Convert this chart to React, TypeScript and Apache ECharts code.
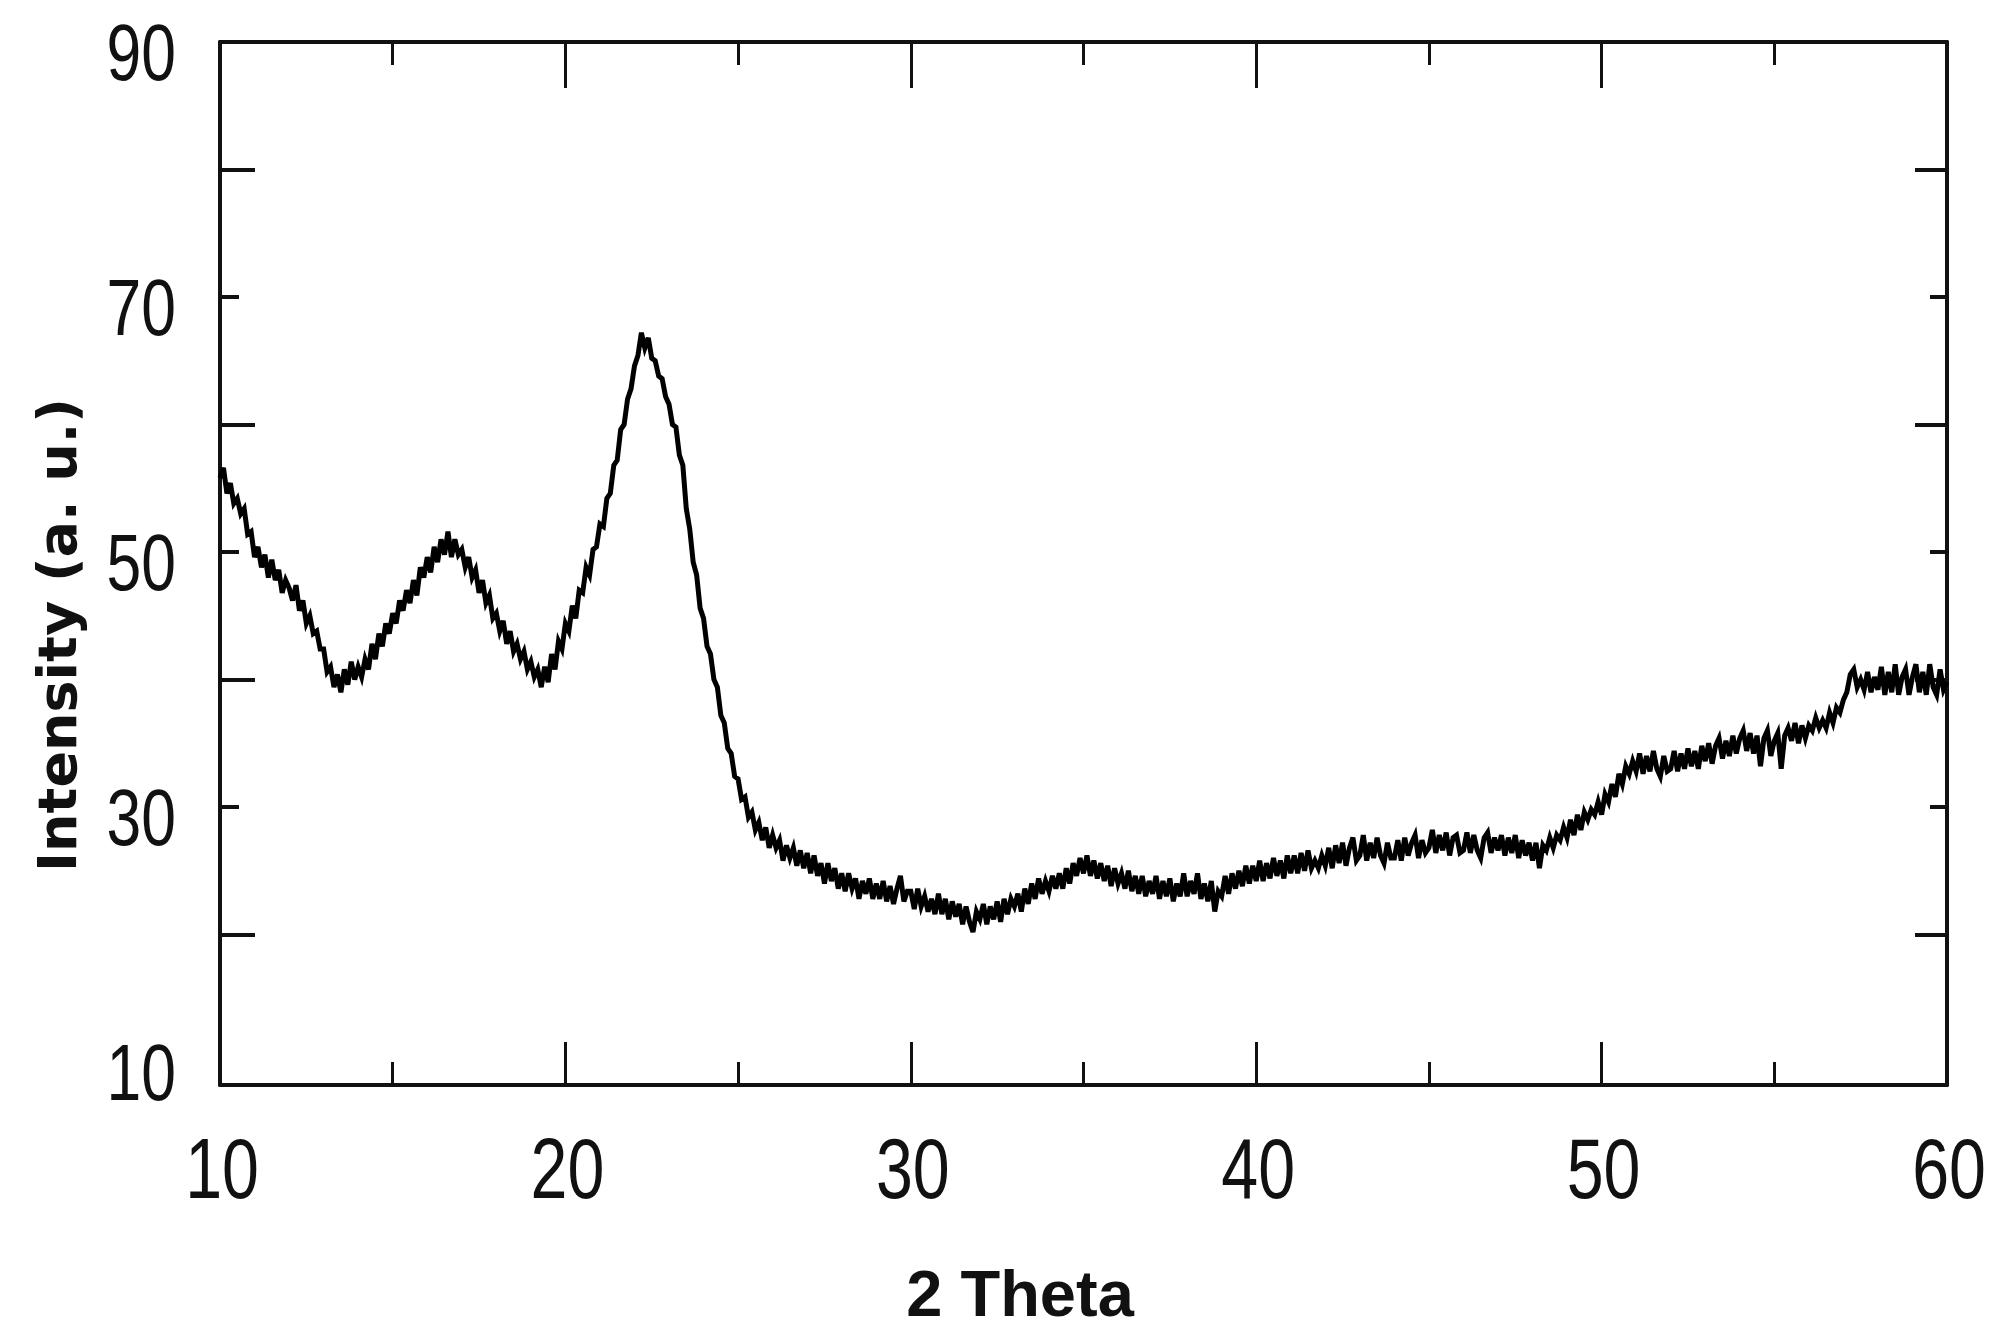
import React, { useEffect, useRef } from "react";
import * as echarts from "echarts";

// XRD pattern: 2θ from 10.0 to 60.0 in 0.1° steps
const START_ANGLE = 10;
const STEP = 0.1;
const intensity: number[] = [
  // 10
  55.8, 56.6, 54.6, 55.4, 53.8, 54.2, 53.0, 53.4, 51.4, 51.6,
  // 11
  49.6, 50.4, 48.8, 49.8, 48.0, 49.4, 47.8, 48.6, 46.8, 47.8,
  // 12
  47.2, 46.2, 47.4, 45.4, 46.2, 44.4, 45.0, 43.6, 43.8, 42.4,
  // 13
  42.4, 40.6, 41.0, 39.4, 40.4, 39.0, 40.8, 39.6, 41.4, 40.0,
  // 14
  41.0, 40.2, 41.6, 40.8, 42.8, 41.6, 43.6, 42.6, 44.4, 43.6,
  // 15
  45.2, 44.4, 46.2, 45.4, 47.0, 46.0, 47.8, 46.6, 48.8, 48.0,
  // 16
  49.6, 48.4, 50.4, 49.2, 51.0, 49.8, 51.6, 49.6, 51.0, 49.8,
  // 17
  50.2, 48.8, 49.6, 48.0, 48.6, 46.8, 47.8, 46.0, 46.6, 44.8,
  // 18
  45.2, 43.8, 44.6, 42.8, 43.8, 42.2, 42.8, 41.6, 42.2, 40.8,
  // 19
  41.4, 40.2, 40.8, 39.4, 41.0, 39.8, 42.0, 40.8, 43.0, 42.4,
  // 20
  44.4, 43.8, 45.8, 44.8, 47.0, 46.8, 48.8, 48.2, 50.2, 50.4,
  // 21
  52.2, 52.0, 54.2, 54.6, 56.8, 57.2, 59.6, 60.0, 62.0, 62.8,
  // 22
  64.6, 65.4, 67.2, 66.0, 66.8, 65.2, 65.0, 63.8, 63.6, 62.2,
  // 23
  61.6, 60.0, 59.8, 57.6, 56.8, 53.4, 51.8, 49.2, 48.2, 45.6,
  // 24
  44.8, 42.6, 42.0, 40.0, 39.4, 37.2, 36.6, 34.6, 34.2, 32.4,
  // 25
  32.2, 30.6, 30.8, 29.2, 29.6, 28.2, 28.8, 27.4, 28.4, 26.8,
  // 26
  27.8, 26.8, 27.4, 25.8, 27.0, 26.0, 26.8, 25.4, 26.6, 25.2,
  // 27
  26.4, 24.8, 26.2, 24.6, 25.6, 24.0, 25.6, 24.2, 25.2, 23.6,
  // 28
  24.8, 23.4, 24.8, 23.6, 24.4, 22.8, 24.2, 23.2, 24.4, 22.8,
  // 29
  24.0, 22.8, 24.2, 22.6, 23.8, 22.4, 23.6, 24.6, 22.6, 23.4,
  // 30
  23.4, 22.0, 23.6, 22.2, 23.0, 21.8, 22.8, 21.6, 23.2, 21.6,
  // 31
  22.8, 21.2, 22.6, 21.4, 22.4, 20.8, 22.2, 21.0, 20.2, 21.8,
  // 32
  21.2, 22.4, 20.8, 22.2, 21.2, 22.6, 21.0, 22.8, 21.6, 22.8,
  // 33
  22.2, 23.2, 21.8, 23.6, 22.4, 24.0, 22.8, 24.4, 23.2, 24.2,
  // 34
  23.4, 24.6, 23.6, 24.8, 23.6, 25.2, 24.0, 25.6, 24.6, 26.0,
  // 35
  24.8, 26.2, 24.6, 25.8, 24.4, 25.6, 24.2, 25.4, 23.8, 25.2,
  // 36
  24.0, 24.8, 23.6, 25.0, 23.4, 24.6, 23.2, 24.6, 23.0, 24.2,
  // 37
  23.2, 24.6, 22.8, 24.2, 23.0, 24.4, 22.6, 24.0, 23.0, 24.8,
  // 38
  23.0, 24.2, 23.2, 24.8, 22.8, 24.0, 22.6, 24.2, 21.8, 23.4,
  // 39
  23.0, 24.6, 23.2, 24.8, 23.6, 25.0, 23.8, 25.4, 24.0, 25.4,
  // 40
  24.2, 25.8, 24.2, 25.6, 24.4, 26.0, 24.6, 25.8, 24.4, 26.2,
  // 41
  24.8, 26.2, 24.8, 26.4, 25.0, 26.6, 25.2, 25.8, 25.2, 26.2,
  // 42
  25.4, 26.8, 25.2, 27.0, 25.6, 27.2, 25.4, 26.8, 27.6, 25.8,
  // 43
  26.2, 27.8, 25.8, 27.2, 26.0, 27.6, 26.2, 25.6, 27.2, 26.0,
  // 44
  26.0, 27.4, 25.8, 27.6, 26.2, 27.2, 27.8, 26.0, 27.4, 26.4,
  // 45
  26.8, 28.2, 26.4, 27.8, 26.6, 28.0, 26.2, 27.6, 27.8, 26.4,
  // 46
  26.6, 28.0, 26.4, 27.8, 26.6, 26.0, 27.6, 28.0, 26.4, 27.6,
  // 47
  26.6, 27.8, 26.2, 27.6, 26.4, 27.8, 26.0, 27.4, 26.2, 27.2,
  // 48
  25.8, 27.2, 25.2, 27.0, 26.6, 27.6, 26.8, 27.8, 27.4, 28.4,
  // 49
  27.6, 29.0, 27.8, 29.4, 28.2, 29.6, 29.0, 29.8, 29.4, 30.4,
  // 50
  29.4, 31.0, 30.4, 31.8, 30.8, 32.6, 31.8, 33.2, 32.6, 33.6,
  // 51
  32.8, 34.2, 32.6, 34.0, 32.8, 34.4, 33.0, 32.4, 34.0, 32.8,
  // 52
  33.0, 34.4, 32.8, 34.2, 33.0, 34.6, 33.2, 34.4, 33.0, 34.8,
  // 53
  33.6, 35.0, 33.4, 34.8, 35.4, 33.8, 35.2, 34.0, 35.6, 34.2,
  // 54
  35.4, 36.0, 34.4, 35.8, 34.2, 35.6, 33.2, 35.4, 36.0, 34.0,
  // 55
  35.2, 35.8, 33.0, 35.6, 36.2, 35.2, 36.6, 35.0, 36.4, 35.4,
  // 56
  36.4, 36.0, 37.0, 36.2, 36.8, 36.2, 37.4, 36.6, 37.8, 37.4,
  // 57
  38.4, 39.0, 40.4, 40.8, 39.4, 40.0, 39.2, 40.6, 39.0, 40.2,
  // 58
  39.2, 41.0, 38.8, 40.6, 39.0, 41.2, 38.8, 40.2, 40.8, 38.8,
  // 59
  40.2, 41.2, 39.0, 40.6, 38.8, 41.2, 39.4, 38.8, 40.8, 39.2,
  // 60
  39.8,
];

const X_MIN = 10;
const X_MAX = 60;
const Y_MIN = 8.2;
const Y_MAX = 90;
const xLabelValues = [10, 20, 30, 40, 50, 60];
const yLabelValues = [10, 30, 50, 70, 90];
const yShortTicks = [30, 50, 70];
const yLongTicks = [20, 40, 60, 80];
const xTitle = "2 Theta";
const yTitle = "Intensity (a. u.)";

const INK = "#111";
const NUM_FONT = "'Liberation Sans', Arial, sans-serif";

export default function App() {
  const ref = useRef<HTMLDivElement>(null);

  useEffect(() => {
    if (!ref.current) return;
    const chart = echarts.init(ref.current, null, { renderer: "svg" });

    const points = intensity.map((v, i) => [
      Math.round((START_ANGLE + i * STEP) * 10) / 10,
      v,
    ]);

    const xBase = {
      type: "value",
      min: X_MIN,
      max: X_MAX,
      interval: 10,
      splitLine: { show: false },
      axisLine: { show: true, onZero: false, lineStyle: { color: INK, width: 4 } },
      minorTick: { show: true, splitNumber: 2, length: 23, lineStyle: { color: INK, width: 3 } },
      minorSplitLine: { show: false },
      axisLabel: { show: false },
    };

    const yBase = {
      type: "value",
      min: Y_MIN,
      max: Y_MAX,
      splitLine: { show: false },
      axisLabel: { show: false },
    };

    const option: any = {
      animation: false,
      backgroundColor: "#ffffff",
      grid: { left: 220, right: 61, top: 42, bottom: 257, containLabel: false },
      xAxis: [
        {
          ...xBase,
          position: "bottom",
          axisTick: { show: true, inside: true, length: 43, lineStyle: { color: INK, width: 3 } },
        },
        {
          ...xBase,
          position: "top",
          axisTick: { show: true, inside: true, length: 46, lineStyle: { color: INK, width: 3 } },
        },
      ],
      yAxis: [
        {
          ...yBase,
          position: "left",
          axisLine: { show: true, onZero: false, lineStyle: { color: INK, width: 4 } },
          axisTick: {
            show: true,
            inside: true,
            length: 19,
            customValues: yShortTicks,
            lineStyle: { color: INK, width: 4 },
          },
        },
        {
          ...yBase,
          position: "left",
          axisLine: { show: false },
          axisTick: {
            show: true,
            inside: true,
            length: 35,
            customValues: yLongTicks,
            lineStyle: { color: INK, width: 4 },
          },
        },
        {
          ...yBase,
          position: "right",
          axisLine: { show: true, onZero: false, lineStyle: { color: INK, width: 4 } },
          axisTick: {
            show: true,
            inside: true,
            length: 17,
            customValues: yShortTicks,
            lineStyle: { color: INK, width: 4 },
          },
        },
        {
          ...yBase,
          position: "right",
          axisLine: { show: false },
          axisTick: {
            show: true,
            inside: true,
            length: 32,
            customValues: yLongTicks,
            lineStyle: { color: INK, width: 4 },
          },
        },
      ],
      series: [
        {
          type: "line",
          xAxisIndex: 0,
          yAxisIndex: 0,
          data: points,
          showSymbol: false,
          symbol: "none",
          clip: true,
          lineStyle: { color: "#000", width: 5, join: "miter" },
        },
      ],
    };

    chart.setOption(option);

    // Tick labels in a condensed style, placed through the axes' own scales
    const labels: any[] = [];
    yLabelValues.forEach((v) => {
      const py = chart.convertToPixel({ yAxisIndex: 0 }, v) as number;
      labels.push({
        type: "text",
        x: 176,
        y: py + 10,
        scaleX: 0.78,
        style: {
          text: String(v),
          fill: "#111",
          font: `80px ${NUM_FONT}`,
          textAlign: "right",
          textVerticalAlign: "middle",
        },
      });
    });
    xLabelValues.forEach((v) => {
      const px = chart.convertToPixel({ xAxisIndex: 0 }, v) as number;
      labels.push({
        type: "text",
        x: px + 2,
        y: 1168,
        scaleX: 0.78,
        style: {
          text: String(v),
          fill: "#111",
          font: `85px ${NUM_FONT}`,
          textAlign: "center",
          textVerticalAlign: "middle",
        },
      });
    });

    chart.setOption({
      graphic: [
        {
          type: "text",
          x: 57,
          y: 635,
          rotation: Math.PI / 2,
          style: {
            text: yTitle,
            fill: "#111",
            font: "bold 54px 'DejaVu Sans', sans-serif",
            textAlign: "center",
            textVerticalAlign: "middle",
          },
        },
        {
          type: "text",
          x: 1020,
          y: 1293,
          style: {
            text: xTitle,
            fill: "#111",
            font: "bold 65px 'Liberation Sans', Arial, sans-serif",
            textAlign: "center",
            textVerticalAlign: "middle",
          },
        },
        ...labels,
      ],
    });

    return () => chart.dispose();
  }, []);

  return (
    <div
      ref={ref}
      style={{ position: "absolute", left: 0, top: 0, width: 2008, height: 1342, background: "#fff" }}
    />
  );
}
